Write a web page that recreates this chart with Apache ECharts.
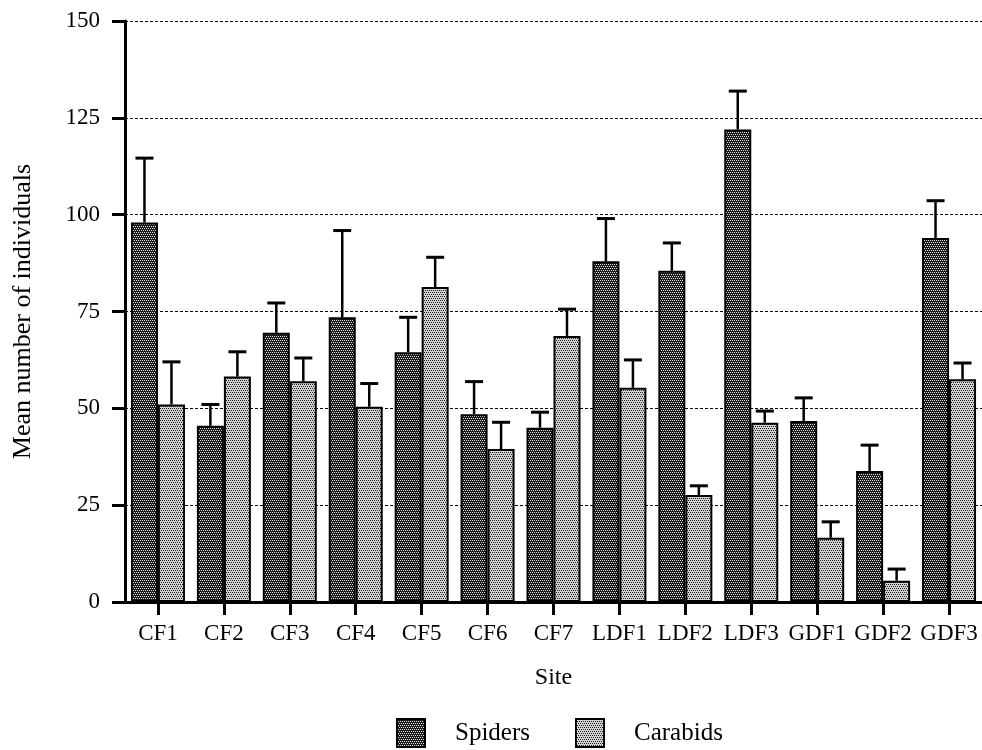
<!DOCTYPE html>
<html>
<head>
<meta charset="utf-8">
<script src="https://cdn.jsdelivr.net/npm/echarts@6/dist/echarts.min.js"></script>
<style>
  html, body { margin: 0; padding: 0; background: #fff; }
  #chart { width: 982px; height: 750px; }
</style>
</head>
<body>
<div id="chart"></div>
<script>
// Mean catch per site with standard error (upper whisker only)
const sites = ['CF1', 'CF2', 'CF3', 'CF4', 'CF5', 'CF6', 'CF7', 'LDF1', 'LDF2', 'LDF3', 'GDF1', 'GDF2', 'GDF3'];
const spiderMeans = [98, 45.5, 69.5, 73.5, 64.5, 48.5, 45, 88, 85.5, 122, 46.7, 33.8, 94];
const spiderErrors = [16.6, 5.5, 7.7, 22.4, 9, 8.4, 4, 11, 7.2, 9.9, 6, 6.7, 9.6];
const carabidMeans = [51, 58.2, 57, 50.4, 81.3, 39.5, 68.7, 55.3, 27.6, 46.3, 16.6, 5.5, 57.5];
const carabidErrors = [11, 6.4, 6, 6, 7.7, 6.9, 6.9, 7.2, 2.4, 3, 4.1, 3, 4.2];
const yTicks = [0, 25, 50, 75, 100, 125, 150];

const FONT = '"Liberation Serif", "DejaVu Serif", serif';
const BAR_W = 27;

// Small dithered tiles used as bar fills
function makeTile(bg, fg, dots) {
  const c = document.createElement('canvas');
  c.width = 4; c.height = 4;
  const g = c.getContext('2d');
  g.fillStyle = bg; g.fillRect(0, 0, 4, 4);
  g.fillStyle = fg;
  dots.forEach(function (d) { g.fillRect(d[0], d[1], 1, 1); });
  return { image: c, repeat: 'repeat' };
}
const lattice = [[0, 0], [2, 0], [1, 2], [3, 2]];
const darkFill = makeTile('#1a1a1a', '#e0e0e0', lattice);
const lightFill = makeTile('#d2d2d2', '#1e1e1e', lattice);

function errorSeries(means, errs, offset) {
  return {
    type: 'custom',
    z: 5,
    silent: true,
    data: means.map(function (m, i) { return [i, m, errs[i]]; }),
    renderItem: function (params, api) {
      const i = api.value(0);
      const m = api.value(1);
      const top = m + api.value(2);
      const p0 = api.coord([i, m]);
      const p1 = api.coord([i, top]);
      const x = p0[0] + offset;
      return {
        type: 'group',
        children: [
          { type: 'line', shape: { x1: x, y1: p0[1], x2: x, y2: p1[1] }, style: { stroke: '#000', lineWidth: 2.5 } },
          { type: 'line', shape: { x1: x - 9, y1: p1[1], x2: x + 9, y2: p1[1] }, style: { stroke: '#000', lineWidth: 3 } }
        ]
      };
    }
  };
}

const chart = echarts.init(document.getElementById('chart'), null, { renderer: 'canvas' });
chart.setOption({
  animation: false,
  backgroundColor: '#fff',
  textStyle: { fontFamily: FONT, color: '#000' },
  grid: { left: 125, right: 0, top: 21, bottom: 148, containLabel: false },
  legend: {
    data: ['Spiders', 'Carabids'],
    left: 391,
    top: 713,
    itemWidth: 28,
    itemHeight: 28,
    itemGap: 45,
    textStyle: { fontFamily: FONT, fontSize: 25, color: '#000', padding: [0, 0, 0, 25] },
    icon: 'rect'
  },
  xAxis: {
    type: 'category',
    data: sites,
    name: 'Site',
    nameLocation: 'middle',
    nameGap: 64,
    nameTextStyle: { fontFamily: FONT, fontSize: 24, color: '#000' },
    axisLine: { show: true, lineStyle: { color: '#000', width: 3 } },
    axisTick: { show: true, alignWithLabel: true, interval: 0, inside: false, length: 13, lineStyle: { color: '#000', width: 3 } },
    axisLabel: { interval: 0, hideOverlap: false, fontFamily: FONT, fontSize: 23, color: '#000', margin: 20 },
    splitLine: { show: false }
  },
  yAxis: {
    type: 'value',
    min: 0,
    max: 150,
    interval: 25,
    name: 'Mean number of individuals',
    nameLocation: 'middle',
    nameGap: 89,
    nameTextStyle: { fontFamily: FONT, fontSize: 26, color: '#000' },
    axisLine: { show: true, lineStyle: { color: '#000', width: 3 } },
    axisTick: { show: true, length: 13, lineStyle: { color: '#000', width: 3 } },
    axisLabel: {
      fontFamily: FONT, fontSize: 23, color: '#000', margin: 25,
      formatter: function (v) { return yTicks.indexOf(v) >= 0 ? String(v) : ''; }
    },
    splitLine: { show: true, lineStyle: { color: '#000', width: 1.2, type: [3, 2] } }
  },
  series: [
    {
      name: 'Spiders',
      type: 'bar',
      data: spiderMeans,
      barWidth: BAR_W,
      barGap: '0%',
      itemStyle: { color: darkFill, borderColor: '#000', borderWidth: 2 }
    },
    {
      name: 'Carabids',
      type: 'bar',
      data: carabidMeans,
      barWidth: BAR_W,
      barGap: '0%',
      itemStyle: { color: lightFill, borderColor: '#000', borderWidth: 2 }
    },
    errorSeries(spiderMeans, spiderErrors, -BAR_W / 2),
    errorSeries(carabidMeans, carabidErrors, BAR_W / 2)
  ]
});
</script>
</body>
</html>
